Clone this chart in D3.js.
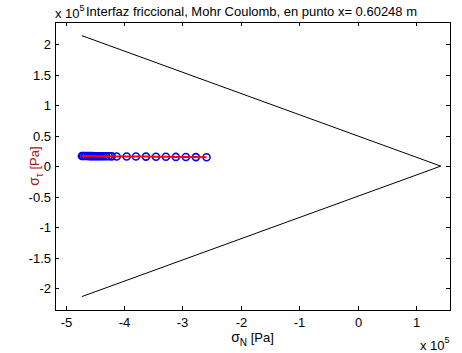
<!DOCTYPE html>
<html>
<head>
<meta charset="utf-8">
<script src="https://cdn.jsdelivr.net/npm/d3@7"></script>
<style>
  body { margin: 0; background: #fff; }
  svg { font-family: Arial, "Liberation Sans", sans-serif; }
</style>
</head>
<body>
<svg id="chart" width="462" height="353"></svg>
<script>
// Mohr-Coulomb envelope (Pa)
const envSigmaN = [-472000, 142000, -472000];
const envTau = [214000, 0, -214000];

// stress states at x = 0.60248 m (Pa)
const sigmaN = [-472000, -470000, -467500, -465000, -462000, -459000, -456000, -453000,
    -450000, -447000, -444000, -441000, -438000, -434500, -430500, -426000, -421000,
    -412500, -395400, -379500, -362400, -345300, -328300, -311200, -294100, -277000, -258700];
const tau = [16600, 16600, 16500, 16500, 16500, 16400, 16400, 16400,
    16300, 16300, 16300, 16200, 16200, 16200, 16100, 16100, 16000,
    15900, 15800, 15700, 15600, 15400, 15300, 15100, 15000, 14800, 14600];

const xTicks = [-5, -4, -3, -2, -1, 0, 1];
const yTicks = [-2, -1.5, -1, -0.5, 0, 0.5, 1, 1.5, 2];
const expo = 1e5;

const svg = d3.select("#chart");
const mLeft = 55, mRight = 450, mTop = 22, mBottom = 310;
const fs = 13;

const x = d3.scaleLinear().domain([-5.18e5, 1.578e5]).range([mLeft, mRight]);
const y = d3.scaleLinear().domain([-2.36e5, 2.364e5]).range([mBottom, mTop]);

const tickLen = 4;
const g = svg.append("g").attr("shape-rendering", "crispEdges");

// box
g.append("rect")
    .attr("x", mLeft + 0.5).attr("y", mTop + 0.5)
    .attr("width", mRight - mLeft).attr("height", mBottom - mTop)
    .attr("fill", "none").attr("stroke", "#000");

// x ticks (bottom and top, inward)
xTicks.forEach(t => {
    const px = Math.round(x(t * expo)) + 0.5;
    g.append("line").attr("x1", px).attr("x2", px)
        .attr("y1", mBottom).attr("y2", mBottom - tickLen).attr("stroke", "#000");
    g.append("line").attr("x1", px).attr("x2", px)
        .attr("y1", mTop).attr("y2", mTop + tickLen).attr("stroke", "#000");
    svg.append("text").attr("x", px).attr("y", mBottom + 17)
        .attr("text-anchor", "middle").attr("font-size", fs)
        .text(t);
});

// y ticks (left and right, inward)
yTicks.forEach(t => {
    const py = Math.round(y(t * expo)) + 0.5;
    g.append("line").attr("x1", mLeft).attr("x2", mLeft + tickLen)
        .attr("y1", py).attr("y2", py).attr("stroke", "#000");
    g.append("line").attr("x1", mRight).attr("x2", mRight - tickLen)
        .attr("y1", py).attr("y2", py).attr("stroke", "#000");
    svg.append("text").attr("x", mLeft - 4).attr("y", py + 4.5)
        .attr("text-anchor", "end").attr("font-size", fs)
        .text(t);
});

// envelope
const line = d3.line().x(d => x(d[0])).y(d => y(d[1]));
svg.append("path")
    .attr("d", line(d3.zip(envSigmaN, envTau)))
    .attr("fill", "none").attr("stroke", "#000").attr("stroke-width", 1);

// stress points
svg.append("g").selectAll("circle")
    .data(d3.zip(sigmaN, tau))
    .join("circle")
    .attr("cx", d => x(d[0]))
    .attr("cy", d => y(d[1]))
    .attr("r", 3.5)
    .attr("fill", "none").attr("stroke", "#0000ff").attr("stroke-width", 1.6);

svg.append("path")
    .attr("d", line(d3.zip(sigmaN, tau)))
    .attr("fill", "none").attr("stroke", "#ff0000").attr("stroke-width", 2);

// title and exponent labels
svg.append("text").attr("x", 86).attr("y", 16)
    .attr("font-size", fs)
    .attr("textLength", 331).attr("lengthAdjust", "spacing")
    .text("Interfaz friccional, Mohr Coulomb, en punto x= 0.60248 m");

const ex1 = svg.append("text").attr("x", mLeft).attr("y", 18).attr("font-size", fs);
ex1.append("tspan").text("x 10");
ex1.append("tspan").attr("font-size", 9).attr("dy", -7).text("5");

const ex2 = svg.append("text").attr("x", 420).attr("y", 350).attr("font-size", fs);
ex2.append("tspan").text("x 10");
ex2.append("tspan").attr("font-size", 9).attr("dy", -7).text("5");

// axis labels
const xl = svg.append("text").attr("x", (mLeft + mRight) / 2).attr("y", 342)
    .attr("text-anchor", "middle").attr("font-size", fs);
xl.append("tspan").attr("font-size", 14).text("σ");
xl.append("tspan").attr("font-size", 10).attr("dy", 4).text("N");
xl.append("tspan").attr("dy", -4).text(" [Pa]");

const yl = svg.append("text")
    .attr("transform", `translate(39,${y(0)}) rotate(-90)`)
    .attr("text-anchor", "middle").attr("font-size", fs).attr("fill", "#a02020");
yl.append("tspan").attr("font-size", 14).text("σ");
yl.append("tspan").attr("font-size", 10).attr("dy", 4).text("τ");
yl.append("tspan").attr("dy", -4).text(" [Pa]");
</script>
</body>
</html>
